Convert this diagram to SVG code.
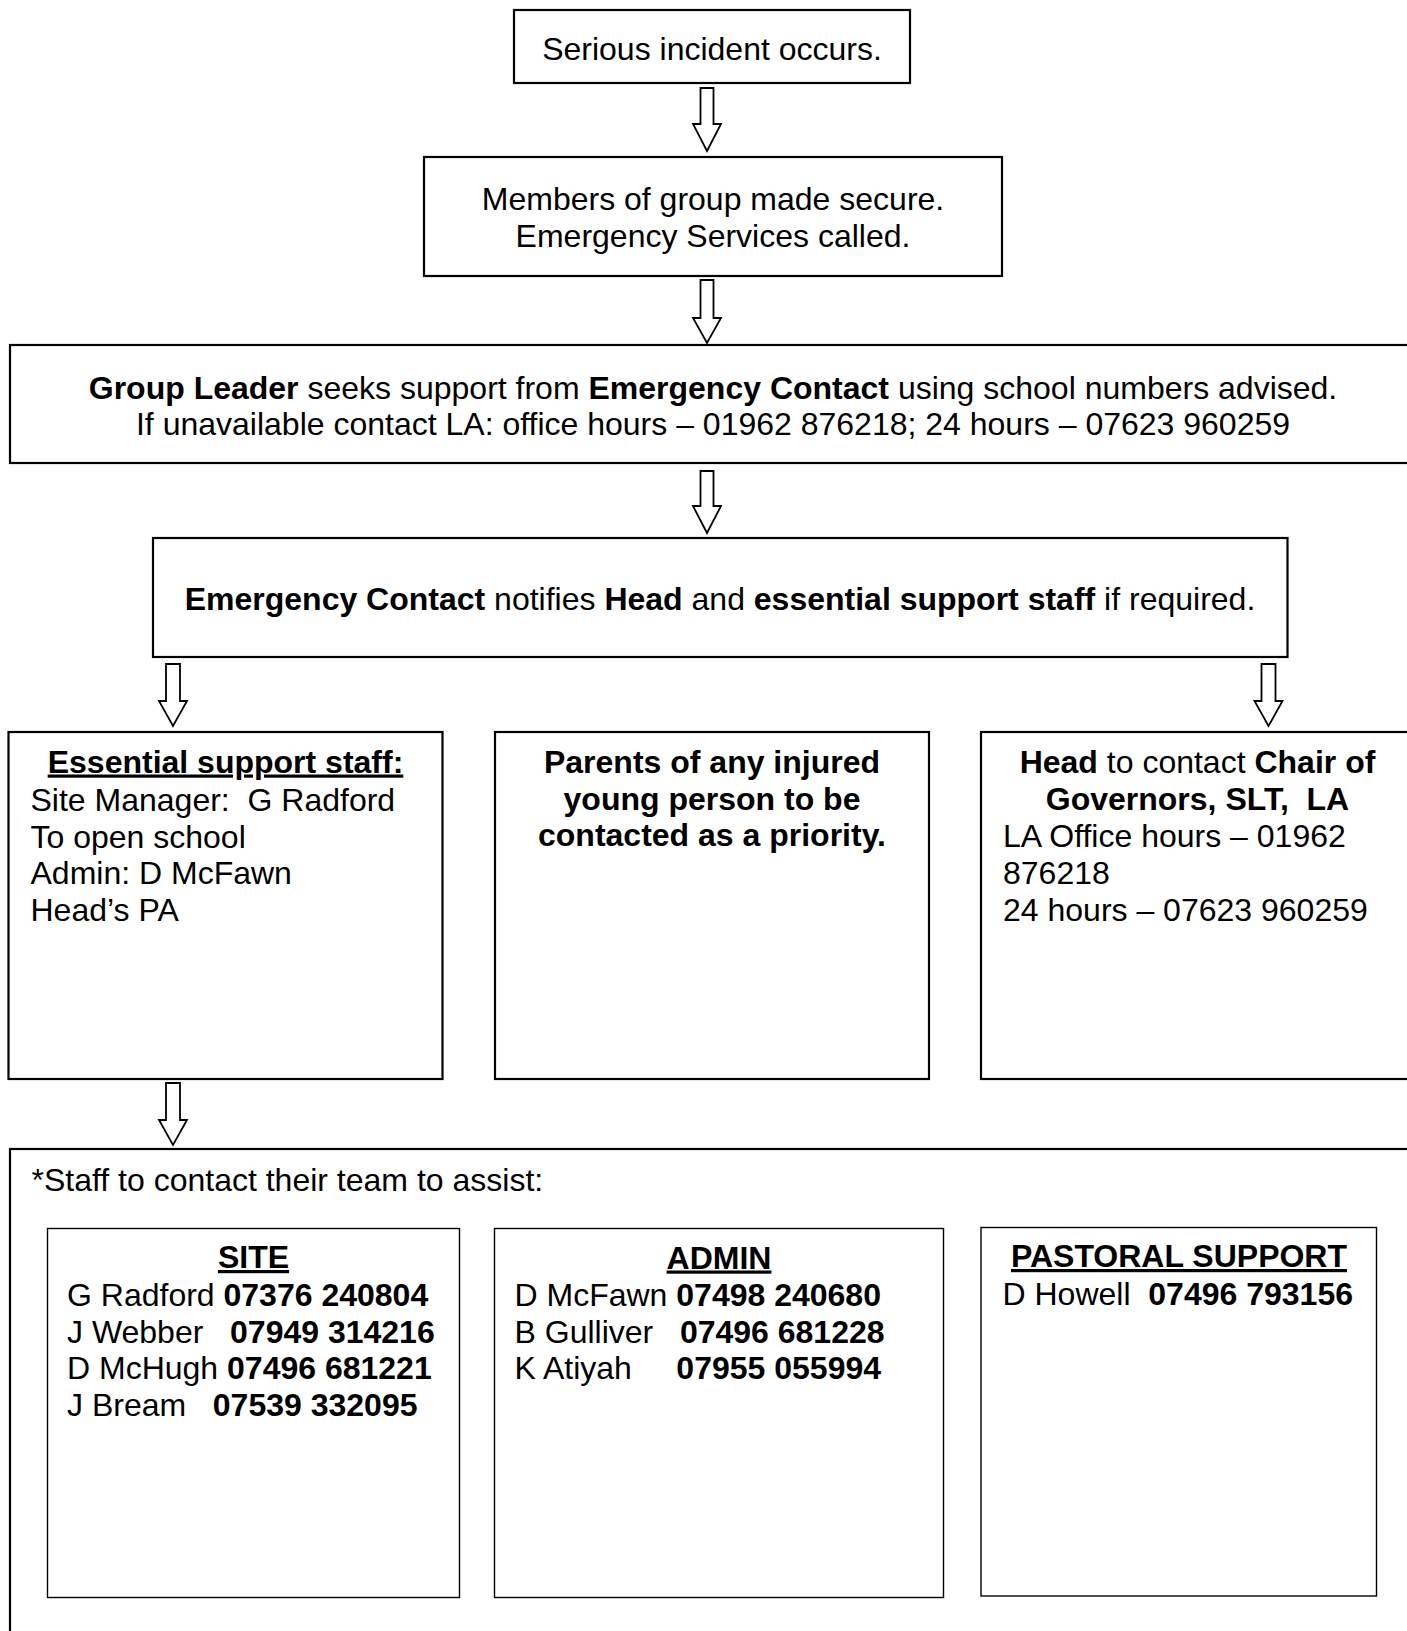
<svg xmlns="http://www.w3.org/2000/svg" width="1407" height="1631" viewBox="0 0 1407 1631">
<style>
  text { font-family: "Liberation Sans", Arial, sans-serif; font-size: 32px; fill: #000; white-space: pre; }
  .b { font-weight: bold; }
  .c { text-anchor: middle; }
  .u { text-decoration: underline; }
  .box { fill: #fff; stroke: #000; stroke-width: 2.2; }
  .inner { fill: #fff; stroke: #000; stroke-width: 1.4; }
  .arrow { fill: #fff; stroke: #000; stroke-width: 1.8; stroke-linejoin: miter; }
</style>
<rect x="0" y="0" width="1407" height="1631" fill="#fff"/>

<g id="connectors">
  <path class="arrow" d="M700.5,88 H713.5 V124 H721 L707,151 L693,124 H700.5 Z"/>
  <path class="arrow" d="M700.5,280 H713.5 V318 H721 L707,343 L693,318 H700.5 Z"/>
  <path class="arrow" d="M700.5,471 H713.5 V506 H721 L707,533 L693,506 H700.5 Z"/>
  <path class="arrow" d="M166,664 H180 V701 H187 L173,726 L159,701 H166 Z"/>
  <path class="arrow" d="M1261.5,664 H1275.5 V701 H1282.5 L1268.5,726 L1254.5,701 H1261.5 Z"/>
  <path class="arrow" d="M166,1083 H180 V1120 H187 L173,1145 L159,1120 H166 Z"/>
</g>

<g id="node-incident">
  <rect class="box" x="514" y="10" width="396" height="73"/>
  <text class="c" x="712" y="59.5">Serious incident occurs.</text>
</g>

<g id="node-secure">
  <rect class="box" x="424" y="157" width="578" height="119"/>
  <text class="c" x="713" y="209.5">Members of group made secure.</text>
  <text class="c" x="713" y="246.5">Emergency Services called.</text>
</g>

<g id="node-group-leader">
  <rect class="box" x="10" y="345" width="1410" height="118" stroke-width="2.5"/>
  <text class="c" x="713" y="398.5"><tspan class="b">Group Leader</tspan> seeks support from <tspan class="b">Emergency Contact</tspan> using school numbers advised.</text>
  <text class="c" x="713" y="435">If unavailable contact LA: office hours – 01962 876218; 24 hours – 07623 960259</text>
</g>

<g id="node-emergency-contact">
  <rect class="box" x="153" y="538" width="1134.5" height="119" stroke-width="2.5"/>
  <text class="c" x="720" y="609.5"><tspan class="b">Emergency Contact</tspan> notifies <tspan class="b">Head</tspan> and <tspan class="b">essential support staff</tspan> if required.</text>
</g>

<g id="node-essential-staff">
  <rect class="box" x="8.5" y="732" width="434" height="347"/>
  <text class="c b u" x="225.5" y="772.5">Essential support staff:</text>
  <text x="30.5" y="810.5">Site Manager:  G Radford</text>
  <text x="30.5" y="847.5">To open school</text>
  <text x="30.5" y="884">Admin: D McFawn</text>
  <text x="30.5" y="921">Head’s PA</text>
</g>

<g id="node-parents">
  <rect class="box" x="495" y="732" width="434" height="347"/>
  <text class="c b" x="712" y="773">Parents of any injured</text>
  <text class="c b" x="712" y="809.5">young person to be</text>
  <text class="c b" x="712" y="846">contacted as a priority.</text>
</g>

<g id="node-head">
  <rect class="box" x="981" y="732" width="440" height="347"/>
  <text class="c" x="1197.5" y="772.5"><tspan class="b">Head</tspan> to contact <tspan class="b">Chair of</tspan></text>
  <text class="c b" x="1197.5" y="810">Governors, SLT,  LA</text>
  <text x="1003" y="847">LA Office hours – 01962</text>
  <text x="1003" y="884">876218</text>
  <text x="1003" y="921">24 hours – 07623 960259</text>
</g>

<g id="node-team">
  <rect class="box" x="10" y="1149" width="1420" height="500"/>
  <text x="31.5" y="1190.5">*Staff to contact their team to assist:</text>
</g>

<g id="node-site">
  <rect class="inner" x="47.5" y="1228.5" width="412" height="369"/>
  <text class="c b u" x="253.5" y="1268">SITE</text>
  <text x="67" y="1306">G Radford <tspan class="b">07376 240804</tspan></text>
  <text x="67" y="1342.5">J Webber   <tspan class="b">07949 314216</tspan></text>
  <text x="67" y="1379">D McHugh <tspan class="b">07496 681221</tspan></text>
  <text x="67" y="1416">J Bream   <tspan class="b">07539 332095</tspan></text>
</g>

<g id="node-admin">
  <rect class="inner" x="494.5" y="1228.5" width="449" height="369"/>
  <text class="c b u" x="719" y="1268.5">ADMIN</text>
  <text x="514.5" y="1306">D McFawn <tspan class="b">07498 240680</tspan></text>
  <text x="514.5" y="1342.5">B Gulliver   <tspan class="b">07496 681228</tspan></text>
  <text x="514.5" y="1379">K Atiyah     <tspan class="b">07955 055994</tspan></text>
</g>

<g id="node-pastoral">
  <rect class="inner" x="981" y="1227.5" width="395.5" height="368.5"/>
  <text class="c b u" x="1179" y="1267">PASTORAL SUPPORT</text>
  <text x="1002.5" y="1305">D Howell  <tspan class="b">07496 793156</tspan></text>
</g>
</svg>
